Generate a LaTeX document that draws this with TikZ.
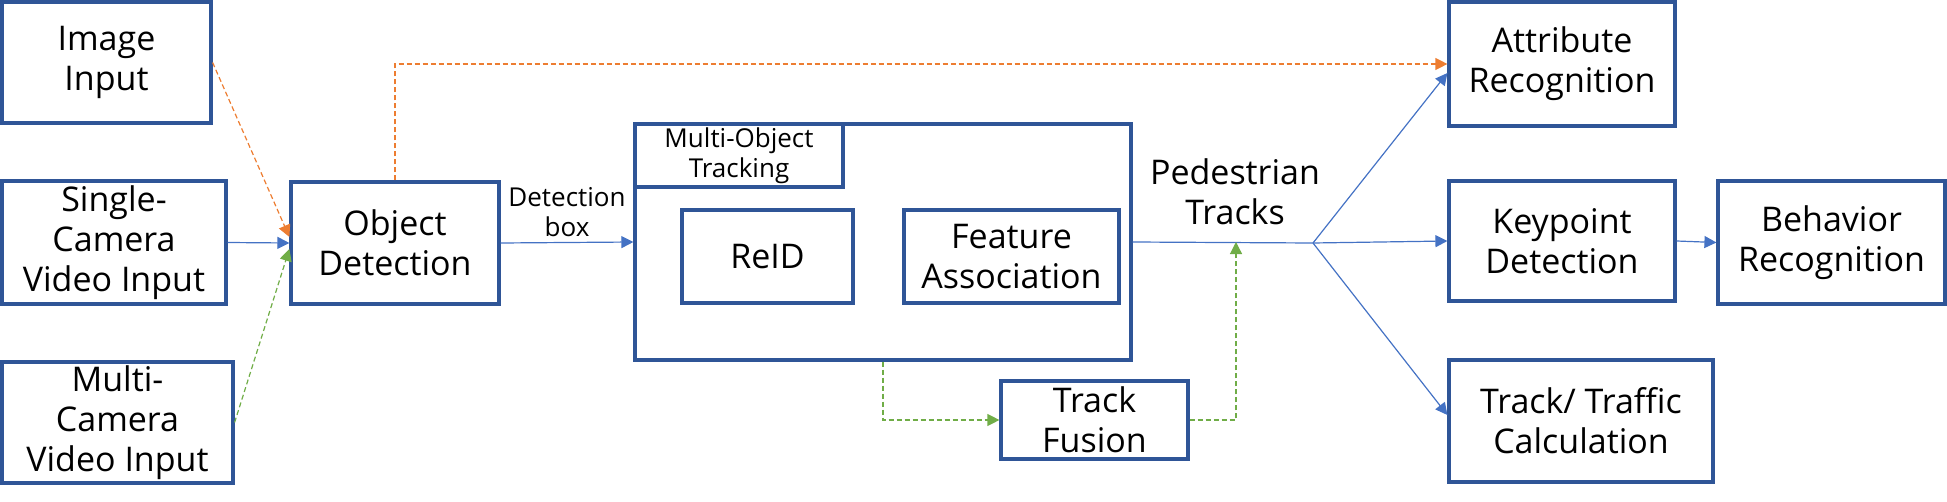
\documentclass[tikz,border=0pt]{standalone}
\usepackage{fontspec}
\setmainfont{Open Sans}
\usetikzlibrary{arrows.meta}
\definecolor{boxblue}{HTML}{2F5597}
\definecolor{lineblue}{HTML}{4472C4}
\definecolor{lineorange}{HTML}{ED7D31}
\definecolor{linegreen}{HTML}{70AD47}
\tikzset{
  blk/.style={draw=boxblue, line width=1.6pt, align=center, inner sep=0pt,
    font=\fontsize{17}{20}\selectfont},
  conn/.style={line width=0.6pt, -{Triangle[length=6pt,width=6pt]}},
  bconn/.style={conn, draw=lineblue},
  oconn/.style={conn, draw=lineorange, dash pattern=on 2.5pt off 1.5pt},
  gconn/.style={conn, draw=linegreen, dash pattern=on 2.5pt off 1.5pt},
  lbl/.style={align=center, inner sep=0pt}
}
\begin{document}
\begin{tikzpicture}[x=0.5pt, y=-0.5pt]
\useasboundingbox (0,0) rectangle (1947,502);
% input boxes
\node[blk, minimum width=104.5pt, minimum height=60.5pt] (img) at (106.5,62.5) {Image\\Input};
\node[blk, minimum width=112pt, minimum height=61.5pt] (single) at (114,242.5) {Single-\\Camera\\Video Input};
\node[blk, minimum width=115.5pt, minimum height=60.5pt] (multi) at (117.5,422.5) {Multi-\\Camera\\Video Input};
\node[blk, minimum width=104pt, minimum height=61pt] (od) at (395,243) {Object\\Detection};
% MOT
\node[blk, minimum width=248pt, minimum height=118pt] (mot) at (883,242) {};
\node[blk, minimum width=104pt, minimum height=31.5pt, font=\fontsize{13}{15}\selectfont] (motl) at (739,155.5) {Multi-Object\\Tracking};
\node[blk, minimum width=85.5pt, minimum height=46.5pt] (reid) at (767.5,256.5) {ReID};
\node[blk, minimum width=107.5pt, minimum height=46.5pt] (feat) at (1011.5,256.5) {Feature\\Association};
\node[blk, minimum width=93.5pt, minimum height=39pt] (fusion) at (1094.5,420) {Track\\Fusion};
% outputs
\node[blk, minimum width=113pt, minimum height=62pt] (attr) at (1562,64) {Attribute\\Recognition};
\node[blk, minimum width=113pt, minimum height=60pt] (kp) at (1562,241) {Keypoint\\Detection};
\node[blk, minimum width=113.5pt, minimum height=61.5pt] (beh) at (1831.5,242.5) {Behavior\\Recognition};
\node[blk, minimum width=132pt, minimum height=61pt] (traffic) at (1581,421) {Track/ Traffic\\Calculation};
% labels
\node[lbl, font=\fontsize{13}{14.7}\selectfont] (detlbl) at (567,212) {Detection\\box};
\node[lbl, font=\fontsize{17}{20}\selectfont] (pedlbl) at (1235,192) {Pedestrian\\Tracks};
% coordinates
\coordinate (branch) at (1313,243);
\coordinate (merge) at (1236,242);
\coordinate (odup) at ([yshift=3pt]od.west);
\coordinate (oddown) at ([yshift=-3pt]od.west);
\coordinate (attrlow) at ([yshift=-4.5pt]attr.west);
\coordinate (traflow) at ([yshift=3pt]traffic.west);
% connectors into OD
\draw[oconn] (img.east) -- (odup);
\draw[bconn] (single.east) -- (od.west);
\draw[gconn] (multi.east) -- (oddown);
% OD to MOT
\draw[bconn] (od.east) -- (mot.west);
% orange skip to attribute
\draw[oconn] (od.north) |- (attr.west);
% main line
\draw[lineblue, line width=0.6pt] (mot.east) -- (branch);
\draw[bconn] (branch) -- (attrlow);
\draw[bconn] (branch) -- (kp.west);
\draw[bconn] (branch) -- (traflow);
\draw[bconn] (kp.east) -- (beh.west);
% fusion loop
\draw[gconn] (mot.south) |- (fusion.west);
\draw[gconn] (fusion.east) -| (merge);
\end{tikzpicture}
\end{document}
